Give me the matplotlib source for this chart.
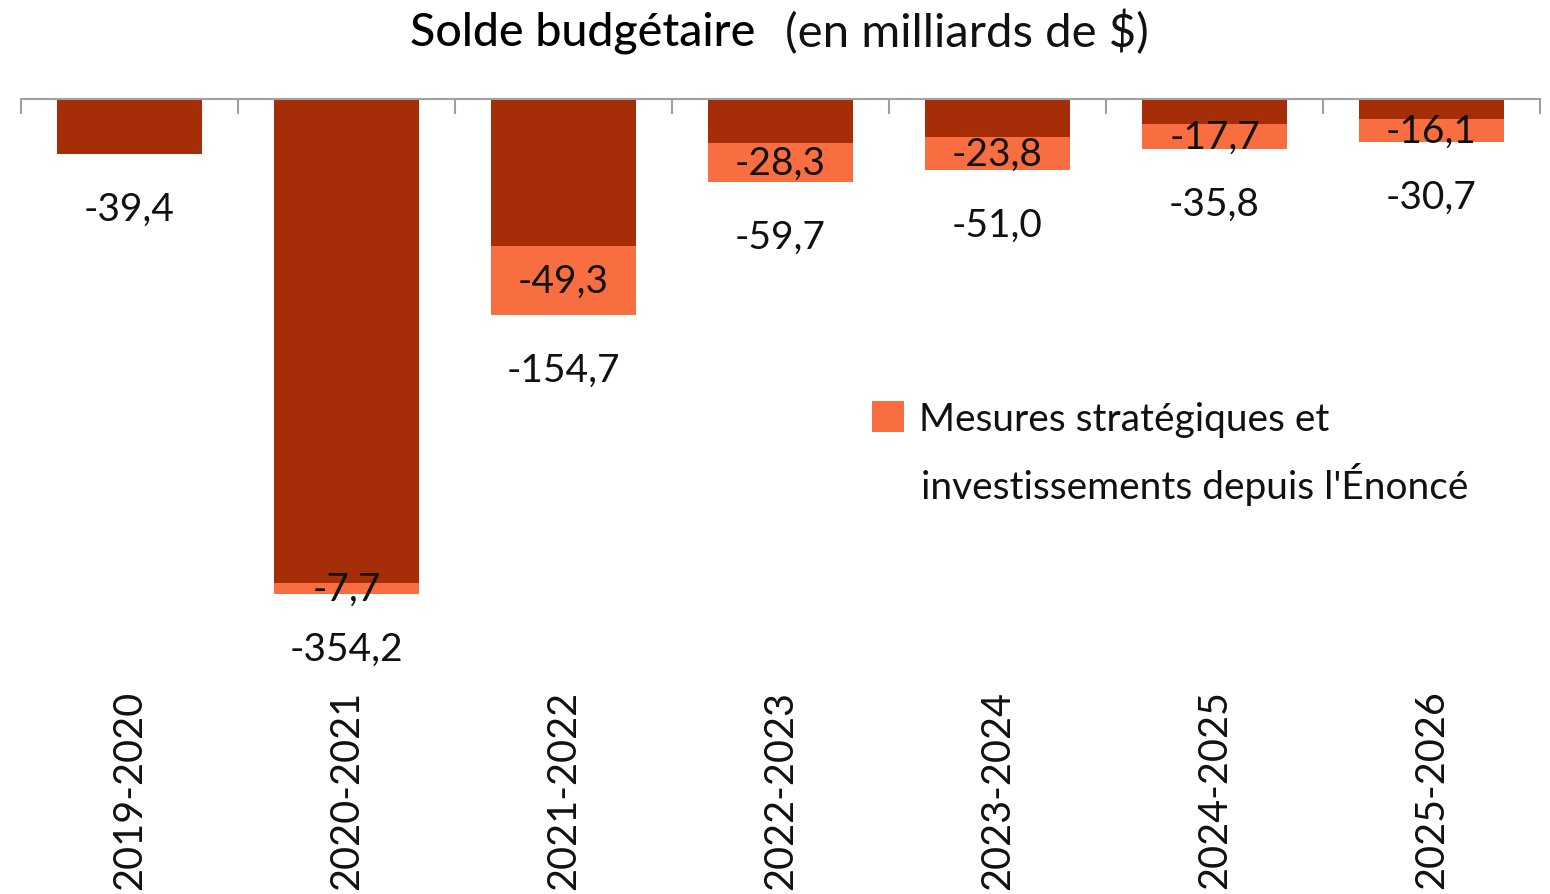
import matplotlib
matplotlib.use("Agg")
from matplotlib import pyplot as plt
import numpy as np

# données (en milliards de $)
annees = ["2019-2020", "2020-2021", "2021-2022", "2022-2023", "2023-2024", "2024-2025", "2025-2026"]
solde_total = [-39.4, -354.2, -154.7, -59.7, -51.0, -35.8, -30.7]
mesures = [0.0, -7.7, -49.3, -28.3, -23.8, -17.7, -16.1]
base = [t - m for t, m in zip(solde_total, mesures)]

rouge = "#A52E08"
orange = "#F96E40"
gris = "#A0A0A0"
texte = "#111111"

plt.rcParams["font.family"] = ["Lato", "DejaVu Sans"]

fig = plt.figure(figsize=(15.5, 8.95), dpi=100)
ax = fig.add_axes([21 / 1550, 1 - 685 / 895, 1519 / 1550, 585 / 895])

x = np.arange(len(annees))
ax.bar(x, base, width=0.67, color=rouge)
ax.bar(x, mesures, width=0.67, bottom=base, color=orange,
       label="Mesures stratégiques et")

ax.set_xlim(-0.5, len(annees) - 0.5)
ax.set_ylim(-418.8, 0)

# étiquettes
def fmt(v):
    return ("%.1f" % v).replace(".", ",")

for i in range(len(annees)):
    ax.text(x[i], solde_total[i] - 39, fmt(solde_total[i]), ha="center", va="center",
            fontsize=28, color=texte)
    if mesures[i] != 0:
        ax.text(x[i], base[i] + mesures[i] / 2, fmt(mesures[i]), ha="center", va="center",
                fontsize=28, color=texte)

# axes
for s in ["left", "right", "bottom"]:
    ax.spines[s].set_visible(False)
ax.spines["top"].set_color(gris)
ax.spines["top"].set_linewidth(1.5)
ax.set_yticks([])
ax.set_xticks(x)
ax.set_xticklabels(annees, rotation=90, fontsize=28.5, color=texte)
ax.tick_params(axis="x", which="major", length=0, pad=4)
ax.set_xticks(np.arange(-0.5, len(annees)), minor=True)
ax.tick_params(axis="x", which="minor", top=True, bottom=False, direction="in",
               length=11, width=1.5, color=gris)

# légende
leg = ax.legend(loc="upper left", bbox_to_anchor=(872 / 1550, 1 - 402 / 895),
                bbox_transform=fig.transFigure, frameon=False, fontsize=28,
                handlelength=0.82, handleheight=0.82, handletextpad=0.4,
                borderpad=0, borderaxespad=0)
for t in leg.get_texts():
    t.set_color(texte)
fig.text(921 / 1550, 1 - 485 / 895, "investissements depuis l'Énoncé", ha="left", va="center",
         fontsize=28, color=texte)

# titre
fig.text(755 / 1550, 1 - 33 / 895, "Solde budgétaire", ha="right", va="center",
         fontsize=33.5, fontweight="medium", color="#000000")
fig.text(785 / 1550, 1 - 33 / 895, "(en milliards de $)", ha="left", va="center",
         fontsize=34, color=texte)

plt.savefig("out.png", dpi=100)
